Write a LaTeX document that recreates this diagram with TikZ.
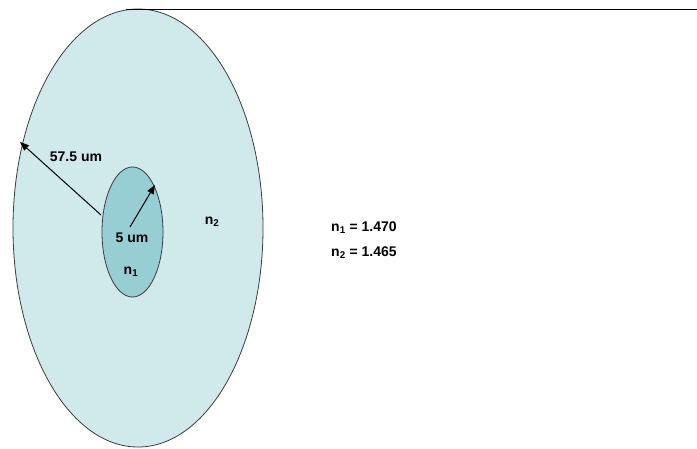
\documentclass[tikz,border=0pt]{standalone}
\usepackage{fontspec}
\setmainfont{Liberation Sans}
\usetikzlibrary{shapes.geometric,arrows.meta}
\definecolor{cladcol}{RGB}{208,233,235}
\definecolor{corecol}{RGB}{150,206,211}
\definecolor{edgecol}{RGB}{60,60,60}
\begin{document}
\begin{tikzpicture}[x=1pt,y=-1pt,
  lbl/.style={font=\fontsize{14}{16}\selectfont\bfseries, inner sep=0pt},
  disc/.style={ellipse, draw=edgecol, line width=0.8pt, inner sep=0pt},
  radarrow/.style={draw=black, line width=1pt, -{Triangle[length=9pt,width=7pt]}}]
\useasboundingbox (0,0) rectangle (697,448);
\node[disc, fill=cladcol, minimum width=250, minimum height=438] (clad) at (138,228) {};
\node[disc, fill=corecol, minimum width=61, minimum height=130] (core) at (132.5,232) {};
\coordinate (lineA) at (126,9);
\coordinate (lineB) at (697,9);
\draw[line width=0.8pt, black] (lineA) -- (lineB);
\coordinate (r1s) at (101,215);
\coordinate (r1e) at (20,142);
\draw[radarrow] (r1s) -- (r1e);
\coordinate (r2s) at (130,227);
\coordinate (r2e) at (155,185);
\draw[radarrow] (r2s) -- (r2e);
\node[lbl] (l575) at (76,157) {57.5 um};
\node[lbl] (l5) at (132,238) {5 um};
\node[lbl] (ln1) at (131,272) {n\textsubscript{1}};
\node[lbl] (ln2) at (212,222) {n\textsubscript{2}};
\node[lbl, anchor=west] (v1) at (331,228) {n\textsubscript{1} = 1.470};
\node[lbl, anchor=west] (v2) at (331,253) {n\textsubscript{2} = 1.465};
\end{tikzpicture}
\end{document}
